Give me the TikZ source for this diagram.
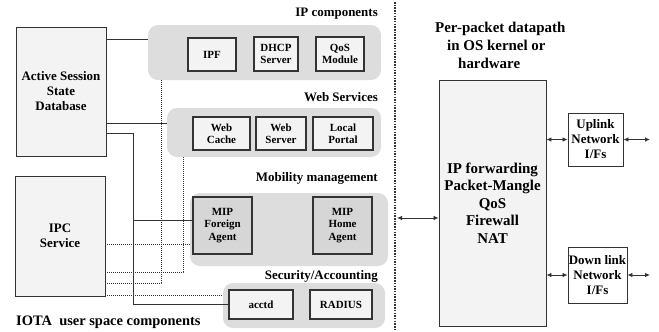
\documentclass[tikz,border=0pt]{standalone}
\usepackage{fontspec}
\setmainfont{Liberation Serif}
\usetikzlibrary{arrows.meta}
\definecolor{grp}{HTML}{DDDDDD}
\definecolor{lite}{HTML}{F3F3F3}
\definecolor{mip}{HTML}{D6D6D6}
\definecolor{ln}{HTML}{333333}
\tikzset{
  fs/.style 2 args={font=\fontsize{#1}{#2}\selectfont\bfseries},
  group/.style={fill=grp, draw=none, rounded corners=10bp},
  box/.style={draw=ln, line width=1.1bp, fill=lite, align=center, inner sep=0pt, fs={11}{12.5}},
  bigbox/.style={draw=ln, line width=0.9bp, fill=lite, align=center, inner sep=0pt, fs={13}{15}},
  lbl/.style={fs={13}{15}, inner sep=0pt},
  sline/.style={draw=ln, line width=0.9bp},
  dline/.style={draw=ln, line width=0.7bp, dash pattern=on 1bp off 1bp},
  darr/.style={draw=ln, line width=0.8bp, {Latex[length=5bp,width=4.5bp]}-{Latex[length=5bp,width=4.5bp]}},
}
\begin{document}
\begin{tikzpicture}[x=1bp,y=-1bp]
\useasboundingbox (0,0) rectangle (659,331);
% groups
\node[group, minimum width=233bp, minimum height=55bp] (ipg) at (264.5,52.5) {};
\node[group, minimum width=214bp, minimum height=49bp] (webg) at (274,132.5) {};
\node[group, minimum width=198bp, minimum height=73bp] (mobg) at (289,229.5) {};
\node[group, minimum width=162bp, minimum height=45bp] (secg) at (304,305.5) {};
% group labels
\node[lbl, anchor=east] (lip) at (378,14) {IP components};
\node[lbl, anchor=east] (lweb) at (378,97) {Web Services};
\node[lbl, anchor=east] (lmob) at (378,178) {Mobility management};
\node[lbl, anchor=east] (lsec) at (378,276) {Security/Accounting};
% inner boxes
\node[box, minimum width=48bp, minimum height=33bp] (ipf) at (212,54.5) {IPF};
\node[box, minimum width=44bp, minimum height=34bp] (dhcp) at (276,54) {DHCP\\Server};
\node[box, minimum width=48bp, minimum height=34bp] (qos) at (340,54) {QoS\\Module};
\node[box, minimum width=57bp, minimum height=33bp] (wcache) at (221.5,133.5) {Web\\Cache};
\node[box, minimum width=50bp, minimum height=33bp] (wserver) at (281,133.5) {Web\\Server};
\node[box, minimum width=60bp, minimum height=33bp] (lportal) at (343,133.5) {Local\\Portal};
\node[box, fill=mip, minimum width=59bp, minimum height=57bp] (mipfa) at (222.5,225.5) {MIP\\Foreign\\Agent};
\node[box, fill=mip, minimum width=59bp, minimum height=57bp] (mipha) at (342.5,225.5) {MIP\\Home\\Agent};
\node[box, minimum width=64bp, minimum height=29bp] (acctd) at (261,304.5) {acctd};
\node[box, minimum width=62bp, minimum height=29bp] (radius) at (341,304.5) {RADIUS};
% left big boxes
\node[bigbox, minimum width=90bp, minimum height=129bp] (assd) at (61,91.5) {Active Session\\State\\Database};
\node[bigbox, minimum width=90bp, minimum height=120bp] (ipc) at (60,236) {IPC\\Service};
\node[fs={14.5}{16}, inner sep=0pt, anchor=west] (iota) at (16,322) {IOTA\ \ user space components};
% coordinates
\coordinate (a1) at (106,39);
\coordinate (a2) at (106,123);
\coordinate (a3) at (106,133);
\coordinate (j1) at (133,133);
\coordinate (j2) at (133,220);
\coordinate (j3) at (133,304);
\coordinate (i1) at (105,244);
\coordinate (i2) at (105,272);
\coordinate (i2c) at (183,272);
\coordinate (i2t) at (183,157);
\coordinate (i3) at (105,283);
\coordinate (i3c) at (161,283);
\coordinate (i3t) at (161,80);
\coordinate (i4) at (105,295);
% solid connectors
\draw[sline] (a1) -- (a1 -| ipg.west);
\draw[sline] (a2) -- (a2 -| webg.west);
\draw[sline] (a3) -- (j1) -- (j3) -- (j3 -| acctd.west);
\draw[sline] (j2) -- (j2 -| mipfa.west);
% dotted connectors
\draw[dline] (i1) -- (i1 -| mobg.west);
\draw[dline] (i2) -- (i2c) -- (i2t);
\draw[dline] (i3) -- (i3c) -- (i3t);
\draw[dline] (i4) -- (i4 -| secg.west);
% separator
\coordinate (s0) at (395,2);
\coordinate (s1) at (395,331);
\draw[ln, line width=2bp, dash pattern=on 1.5bp off 1.2bp] (s0) -- (s1);
% right side
\node[fs={15}{18}, align=left, inner sep=0pt, anchor=west] (pp) at (435,45) {Per-packet datapath\\\hspace*{12bp}in OS kernel or\\\hspace*{23bp}hardware};
\node[bigbox, fs={15}{17.6}, minimum width=107bp, minimum height=246bp] (big) at (492.5,203) {IP forwarding\\Packet-Mangle\\QoS\\Firewall\\NAT};
\node[bigbox, fill=white, minimum width=55bp, minimum height=53bp] (up) at (595.5,139.5) {Uplink\\Network\\I/Fs};
\node[bigbox, fill=white, minimum width=59bp, minimum height=56bp] (down) at (597.5,275) {Down link\\Network\\I/Fs};
\coordinate (sa) at (397,218);
\coordinate (ue) at (650,139.5);
\coordinate (de) at (650,275);
\draw[darr] (sa) -- (sa -| big.west);
\draw[darr] (big.east |- up.west) -- (up.west);
\draw[darr] (up.east) -- (ue);
\draw[darr] (big.east |- down.west) -- (down.west);
\draw[darr] (down.east) -- (de);
\end{tikzpicture}
\end{document}
